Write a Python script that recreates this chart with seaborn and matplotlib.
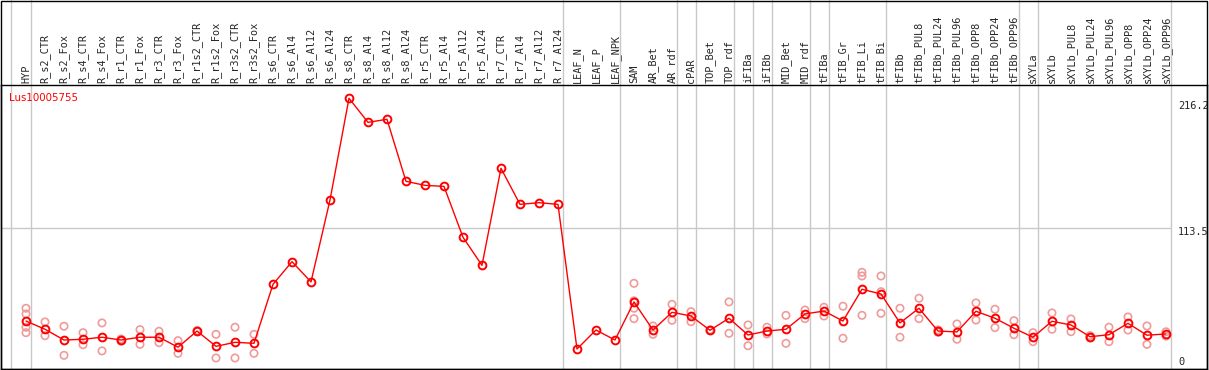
import pandas as pd
import seaborn as sns
import matplotlib.pyplot as plt
from matplotlib.patches import Rectangle

gene = "Lus10005755"

samples = [
    "HYP", "R_s2_CTR", "R_s2_Fox", "R_s4_CTR", "R_s4_Fox", "R_r1_CTR", "R_r1_Fox",
    "R_r3_CTR", "R_r3_Fox", "R_r1s2_CTR", "R_r1s2_Fox", "R_r3s2_CTR", "R_r3s2_Fox",
    "R_s6_CTR", "R_s6_Al4", "R_s6_Al12", "R_s6_Al24", "R_s8_CTR", "R_s8_Al4",
    "R_s8_Al12", "R_s8_Al24", "R_r5_CTR", "R_r5_Al4", "R_r5_Al12", "R_r5_Al24",
    "R_r7_CTR", "R_r7_Al4", "R_r7_Al12", "R_r7_Al24", "LEAF_N", "LEAF_P", "LEAF_NPK",
    "SAM", "AR_Bet", "AR_rdf", "cPAR", "TOP_Bet", "TOP_rdf", "iFIBa", "iFIBb",
    "MID_Bet", "MID_rdf", "tFIBa", "tFIB_Gr", "tFIB_Li", "tFIB_Bi", "tFIBb",
    "tFIBb_PUL8", "tFIBb_PUL24", "tFIBb_PUL96", "tFIBb_OPP8", "tFIBb_OPP24",
    "tFIBb_OPP96", "sXYLa", "sXYLb", "sXYLb_PUL8", "sXYLb_PUL24", "sXYLb_PUL96",
    "sXYLb_OPP8", "sXYLb_OPP24", "sXYLb_OPP96",
]

means = [
    40.0, 33.5, 25.0, 25.6, 27.2, 25.0, 27.2, 27.2, 19.3, 32.1, 20.0, 23.2, 22.4,
    69.0, 86.9, 70.9, 135.6, 216.0, 197.0, 199.4, 150.4, 147.2, 146.4, 106.2, 84.0,
    160.7, 132.2, 133.5, 132.2, 17.9, 32.9, 25.0,
    55.1, 32.9, 46.9, 44.0, 32.7, 42.2, 29.0, 32.1, 33.5, 45.6, 47.9, 40.0, 65.1,
    61.4, 38.5, 50.1, 32.1, 31.4, 47.7, 42.2, 34.3, 27.2, 39.8, 36.9, 27.6, 29.2,
    38.2, 28.8, 29.8,
]

# replicate values, one list per sample (empty where there are none)
replicates = [
    [50.1, 45.6, 35.1, 30.8], [39.3, 28.4], [35.9, 12.9], [30.8, 21.3], [38.5, 16.4],
    [25.8, 24.2], [33.2, 21.6], [31.9, 22.9], [24.5, 14.5], [32.5, 31.7], [29.5, 10.8],
    [35.1, 10.8], [29.5, 14.5],
    [], [], [], [], [], [], [], [], [], [], [], [], [], [], [], [], [], [], [],
    [69.8, 56.0, 50.1, 41.9], [36.1, 29.5], [53.2, 40.6], [47.4, 39.5], [33.0, 32.4],
    [55.1, 30.3], [36.9, 20.5], [35.1, 29.8], [44.5, 22.4], [48.7, 41.9], [50.9, 44.0],
    [51.7, 26.4], [78.5, 75.6, 44.5], [75.6, 63.2, 46.1], [50.1, 27.2],
    [58.0, 41.9], [33.0, 31.2], [37.7, 25.6], [54.3, 40.8], [49.3, 34.8], [40.3, 29.2],
    [30.8, 23.7], [46.4, 33.5], [41.6, 31.6], [28.5, 26.8], [35.1, 23.7], [43.2, 32.9],
    [36.1, 21.6], [31.5, 28.1],
]

# group separators sit just right of these samples
separators = ["HYP", "R_r7_Al24", "LEAF_NPK", "AR_rdf", "cPAR", "TOP_rdf", "iFIBa",
              "iFIBb", "MID_rdf", "tFIBa", "tFIB_Bi", "tFIBb_OPP96", "sXYLa", "sXYLb_OPP96"]

y_ticks = [0, 113.5, 216.2]

df = pd.DataFrame({"pos": range(len(samples)), "value": means})
reps = pd.DataFrame(
    [(i, v) for i, vals in enumerate(replicates) for v in vals], columns=["pos", "value"]
)

sns.set_style("white")
plt.rcParams["font.family"] = ["DejaVu Sans"]

W, H = 1209, 370
fig = plt.figure(figsize=(W / 100, H / 100), dpi=100)
ax = fig.add_axes([1 / W, 1 / H, 1206 / W, 284 / H])

sns.scatterplot(data=reps, x="pos", y="value", ax=ax, marker="o", s=28,
                facecolor="none", edgecolor="#f09a9a", linewidth=1.2, zorder=3)
sns.lineplot(data=df, x="pos", y="value", ax=ax, color="red", linewidth=1.0,
             marker="o", markersize=5.6, markerfacecolor="none",
             markeredgecolor="red", markeredgewidth=1.4, zorder=4)

ax.set_xlim(-1.316, 62.16)
ax.set_ylim(2.1, 226.5)

ax.axhline(113.5, xmin=0, xmax=0.969, color="#c8c8c8", linewidth=1.0, zorder=1)
top = 1 + 85 / 284
ax.axvline(-0.77, ymin=0, ymax=top, color="#c8c8c8", linewidth=1.0, clip_on=False, zorder=1)
for s in separators:
    ax.axvline(samples.index(s) + 0.24, ymin=0, ymax=top, color="#c8c8c8",
               linewidth=1.0, clip_on=False, zorder=1)

ax.set_xticks(range(len(samples)))
ax.set_xticklabels(samples, rotation=90, fontfamily="DejaVu Sans Mono", fontsize=7.4)
ax.xaxis.tick_top()
ax.tick_params(axis="x", length=0, pad=1.5)
ax.set_yticks([])
ax.set_xlabel("")
ax.set_ylabel("")

for v, yc in zip(y_ticks, [7.7, 110.0, 210.0]):
    ax.text(60.63, yc, f"{v:g}", fontsize=7.4, va="center", ha="left",
            fontfamily="DejaVu Sans Mono", clip_on=True)

ax.text(-0.9, 216.5, gene, color="red", fontsize=7.4, va="center", ha="left")

for sp in ax.spines.values():
    sp.set_color("black")
    sp.set_linewidth(1.0)
    sp.set_visible(True)

fig.patches.append(Rectangle((1 / W, 1 / H), 1206 / W, 368.5 / H, transform=fig.transFigure,
                             fill=False, edgecolor="black", linewidth=1.0))

fig.savefig("out.png", dpi=100)
